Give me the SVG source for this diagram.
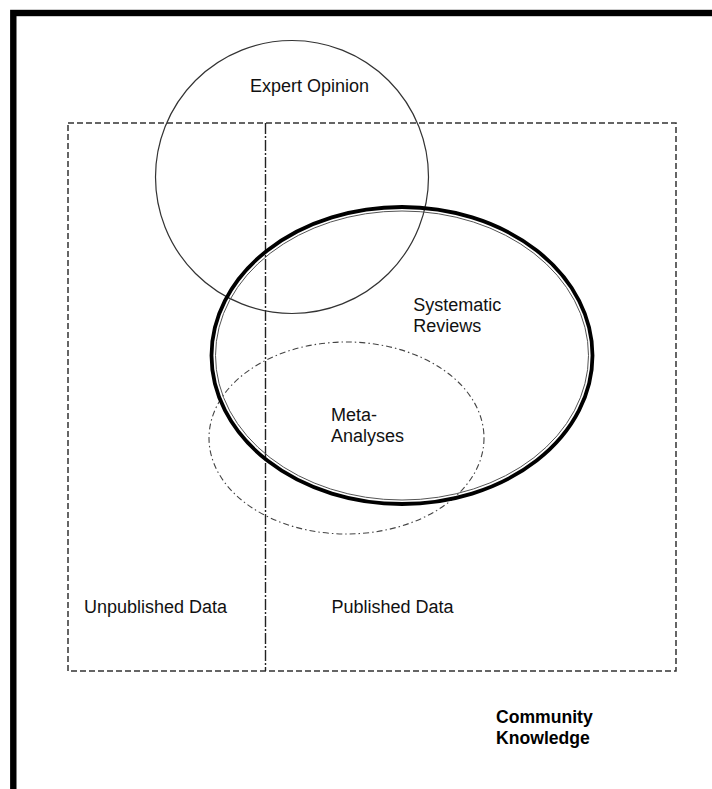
<svg xmlns="http://www.w3.org/2000/svg" width="712" height="789" viewBox="0 0 712 789">
  <style>
    .label { font-family: "Liberation Sans", Arial, Helvetica, sans-serif; font-size: 18px; fill: #111; }
    .bold { font-weight: bold; fill: #000; font-size: 17.6px; }
    .thin { fill: none; stroke: #333; stroke-width: 1.2; }
    .dash { fill: none; stroke: #333; stroke-width: 1.5; stroke-dasharray: 6 3; }
    .dashdot { fill: none; stroke: #444; stroke-width: 1.1; stroke-dasharray: 6 3 1.5 3; }
  </style>
  <rect width="712" height="789" fill="#fff"/>

  <!-- heavy frame, open to the right and bottom -->
  <rect x="13.3" y="13" width="740" height="820" fill="none" stroke="#000" stroke-width="6.4"/>

  <!-- Community knowledge: data area split into unpublished / published -->
  <g id="data-area">
    <rect class="dash" x="68" y="123" width="608" height="548"/>
    <line x1="265.5" y1="123" x2="265.5" y2="671" stroke="#222" stroke-width="1.4" stroke-dasharray="11 2 2 2"/>
    <text class="label" x="84" y="612.7">Unpublished Data</text>
    <text class="label" x="331.5" y="612.7">Published Data</text>
  </g>

  <g id="expert-opinion">
    <circle class="thin" cx="292" cy="177" r="136.5"/>
    <text class="label" x="250" y="91.7">Expert Opinion</text>
  </g>

  <g id="meta-analyses">
    <ellipse class="dashdot" cx="346.5" cy="438" rx="137.5" ry="96"/>
    <text class="label" x="331" y="420.7">Meta-</text>
    <text class="label" x="331" y="442.3">Analyses</text>
  </g>

  <g id="systematic-reviews">
    <ellipse cx="402" cy="355.5" rx="190.5" ry="148.5" fill="none" stroke="#000" stroke-width="3.8"/>
    <ellipse cx="402" cy="355.5" rx="186.5" ry="144.5" fill="none" stroke="#555" stroke-width="1"/>
    <text class="label" x="413.3" y="310.7">Systematic</text>
    <text class="label" x="413.3" y="332.3">Reviews</text>
  </g>

  <g id="community-knowledge">
    <text class="label bold" x="496" y="722.7">Community</text>
    <text class="label bold" x="496" y="744">Knowledge</text>
  </g>
</svg>
